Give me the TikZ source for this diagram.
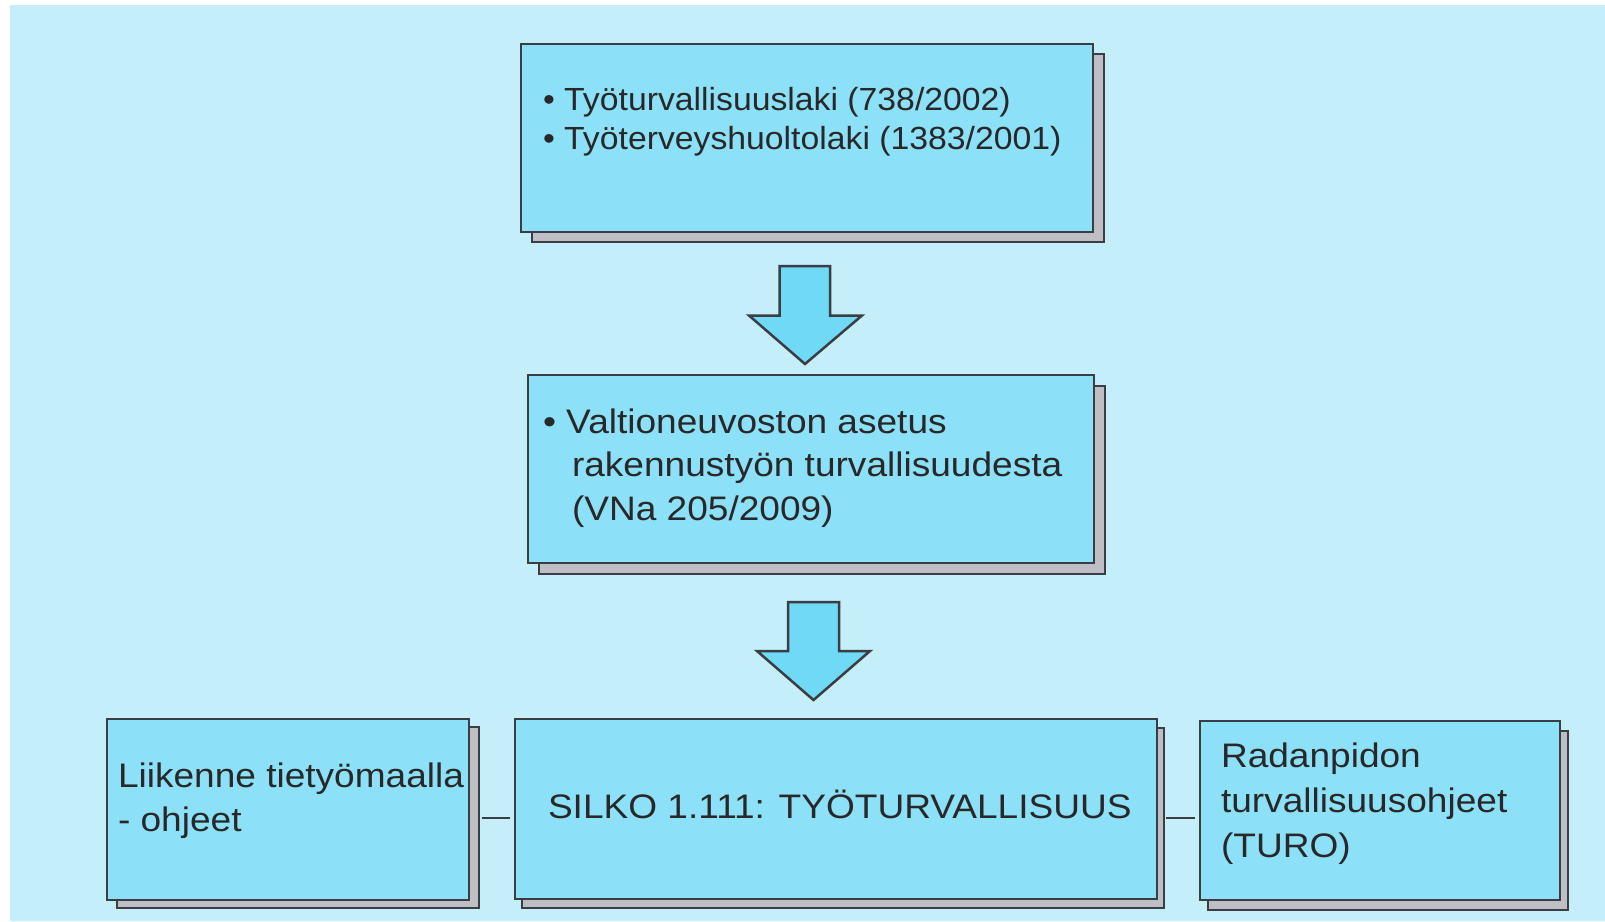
\documentclass[tikz,border=0pt]{standalone}
\usepackage{fontspec}
\setmainfont{Liberation Sans}
\newfontfamily\widesans[FakeStretch=1.09]{Liberation Sans}
\newfontfamily\lawsans[FakeStretch=1.055]{Liberation Sans}
\usetikzlibrary{shadows}

\definecolor{pagebg}{RGB}{197,238,251}
\definecolor{boxfill}{RGB}{140,224,247}
\definecolor{arrowfill}{RGB}{112,217,245}
\definecolor{shadowfill}{RGB}{190,190,196}
\definecolor{edge}{RGB}{58,62,68}
\definecolor{ink}{RGB}{40,40,42}

\tikzset{
  panel/.style 2 args={
    draw=edge, fill=boxfill, line width=2.8pt,
    anchor=north west, inner sep=0pt, outer sep=0pt,
    copy shadow={shadow xshift=#1pt, shadow yshift=-#2pt,
                 fill=shadowfill, draw=edge, line width=2.8pt}},
  txt/.style={anchor=base west, inner sep=0pt, outer sep=0pt,
              text=ink, font=\widesans\fontsize{#1}{#1}\selectfont},
  lawtxt/.style={anchor=base west, inner sep=0pt, outer sep=0pt,
              text=ink, font=\lawsans\fontsize{#1}{#1}\selectfont},
  blockarrow/.style={draw=edge, fill=arrowfill, line width=2.5pt, line join=miter},
  link/.style={draw=edge, line width=2.6pt}
}

\begin{document}
\begin{tikzpicture}[x=1pt, y=-1pt]
  \useasboundingbox (0,0) rectangle (1605,921);
  \fill[white] (0,0) rectangle (1605,921);
  \fill[pagebg] (10,5) rectangle (1605,921);

  % law boxes
  \node[panel={11}{10}, minimum width=572pt, minimum height=188pt] (laws) at (521,44) {};
  \node[lawtxt=32] (law1) at (543,110) {• Työturvallisuuslaki (738/2002)};
  \node[lawtxt=32] (law2) at (543,149) {• Työterveyshuoltolaki (1383/2001)};

  \node[panel={11}{11}, minimum width=566pt, minimum height=188pt] (decree) at (528,375) {};
  \node[txt=34] (dec1) at (543,433) {• Valtioneuvoston asetus};
  \node[txt=34] (dec2) at (572,476) {rakennustyön turvallisuudesta};
  \node[txt=34] (dec3) at (572,520) {(VNa 205/2009)};

  % bottom row
  \node[panel={10}{8}, minimum width=362pt, minimum height=181pt] (traffic) at (107,719) {};
  \node[txt=34] (tr1) at (118,787) {Liikenne tietyömaalla};
  \node[txt=34] (tr2) at (118,831) {- ohjeet};

  \node[panel={7}{9}, minimum width=642pt, minimum height=180pt] (silko) at (515,719) {};
  \node[txt=34] (si1) at (548,818) {SILKO 1.111: TYÖTURVALLISUUS};

  \node[panel={8}{10}, minimum width=360pt, minimum height=179pt] (turo) at (1200,721) {};
  \node[txt=34] (tu1) at (1221,767) {Radanpidon};
  \node[txt=34] (tu2) at (1221,812) {turvallisuusohjeet};
  \node[txt=34] (tu3) at (1221,857) {(TURO)};

  % block arrows between the levels
  \draw[blockarrow] (779.6,266) -- (830,266) -- (830,315.5) -- (862,315.5)
        -- (805,364) -- (749,315.5) -- (779.6,315.5) -- cycle;
  \draw[blockarrow] (788,602) -- (839,602) -- (839,651) -- (870,651)
        -- (813.5,700) -- (757,651) -- (788,651) -- cycle;

  % short links between the bottom boxes
  \draw[link] ([shift={(13pt,-8.5pt)}]traffic.east) -- ([shift={(-5pt,-9pt)}]silko.west);
  \draw[link] ([shift={(9pt,-9pt)}]silko.east) -- ([shift={(-5pt,-7.5pt)}]turo.west);
\end{tikzpicture}
\end{document}
